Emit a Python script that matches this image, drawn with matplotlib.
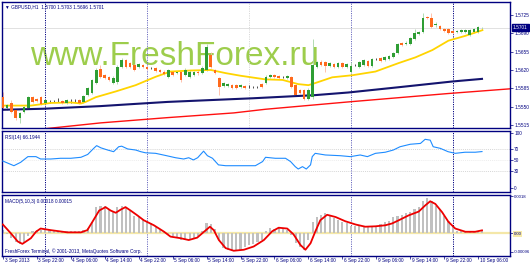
import numpy as np
import matplotlib
matplotlib.use("Agg")
import matplotlib.pyplot as plt
import matplotlib.transforms as mtransforms

W, H = 530, 265
NAVY = "#000080"
FONT = ["Liberation Sans", "DejaVu Sans"]
plt.rcParams["font.family"] = FONT

# GBPUSD H1, 3 Sep 14:00 .. 10 Sep 07:00
opens = [1.5568, 1.5547, 1.5557, 1.5544, 1.5528, 1.5540, 1.5547, 1.5568, 1.5565, 1.5568,
         1.5557, 1.5559, 1.5561, 1.5563, 1.5561, 1.5557, 1.5561, 1.5561, 1.5563, 1.5559,
         1.5572, 1.5576, 1.5595, 1.5622, 1.5610, 1.5607, 1.5595, 1.5597, 1.5626, 1.5639,
         1.5633, 1.5630, 1.5626, 1.5630, 1.5626, 1.5624, 1.5624, 1.5620, 1.5616, 1.5607,
         1.5616, 1.5614, 1.5616, 1.5610, 1.5607, 1.5610, 1.5616, 1.5614, 1.5620, 1.5649,
         1.5620, 1.5605, 1.5589, 1.5589, 1.5591, 1.5591, 1.5588, 1.5589, 1.5588, 1.5588,
         1.5588, 1.5593, 1.5595, 1.5607, 1.5610, 1.5609, 1.5607, 1.5605, 1.5607, 1.5591,
         1.5582, 1.5582, 1.5565, 1.5568, 1.5626, 1.5635, 1.5635, 1.5628, 1.5631, 1.5626,
         1.5633, 1.5626, 1.5616, 1.5630, 1.5626, 1.5630, 1.5637, 1.5628, 1.5641, 1.5643,
         1.5639, 1.5641, 1.5645, 1.5652, 1.5672, 1.5670, 1.5670, 1.5679, 1.5689, 1.5693,
         1.5721, 1.5719, 1.5706, 1.5704, 1.5698, 1.5698, 1.5694, 1.5693, 1.5693, 1.5693,
         1.5687, 1.5693, 1.5693, 1.5700]
closes = [1.5547, 1.5553, 1.5540, 1.5528, 1.5538, 1.5549, 1.5568, 1.5559, 1.5561, 1.5555,
          1.5563, 1.5559, 1.5561, 1.5563, 1.5557, 1.5563, 1.5561, 1.5561, 1.5557, 1.5570,
          1.5586, 1.5601, 1.5620, 1.5607, 1.5605, 1.5601, 1.5605, 1.5626, 1.5639, 1.5626,
          1.5626, 1.5620, 1.5631, 1.5626, 1.5622, 1.5624, 1.5618, 1.5616, 1.5612, 1.5620,
          1.5610, 1.5616, 1.5601, 1.5620, 1.5616, 1.5616, 1.5614, 1.5624, 1.5664, 1.5626,
          1.5614, 1.5588, 1.5595, 1.5593, 1.5586, 1.5586, 1.5591, 1.5586, 1.5588, 1.5588,
          1.5588, 1.5588, 1.5607, 1.5610, 1.5607, 1.5605, 1.5607, 1.5609, 1.5588, 1.5572,
          1.5576, 1.5565, 1.5582, 1.5630, 1.5635, 1.5630, 1.5628, 1.5633, 1.5626, 1.5633,
          1.5626, 1.5631, 1.5628, 1.5630, 1.5635, 1.5639, 1.5628, 1.5641, 1.5641, 1.5637,
          1.5645, 1.5647, 1.5652, 1.5670, 1.5668, 1.5672, 1.5681, 1.5691, 1.5693, 1.5719,
          1.5719, 1.5702, 1.5708, 1.5698, 1.5694, 1.5691, 1.5691, 1.5694, 1.5696, 1.5696,
          1.5696, 1.5698, 1.5702, 1.5701]
highs = [1.5578, 1.5555, 1.5563, 1.5546, 1.5540, 1.5551, 1.5570, 1.5570, 1.5567, 1.5570,
         1.5565, 1.5563, 1.5563, 1.5567, 1.5563, 1.5565, 1.5565, 1.5565, 1.5565, 1.5572,
         1.5588, 1.5603, 1.5624, 1.5630, 1.5612, 1.5609, 1.5609, 1.5630, 1.5643, 1.5641,
         1.5635, 1.5631, 1.5633, 1.5631, 1.5628, 1.5626, 1.5626, 1.5622, 1.5620, 1.5622,
         1.5618, 1.5618, 1.5618, 1.5624, 1.5620, 1.5618, 1.5620, 1.5628, 1.5670, 1.5654,
         1.5622, 1.5607, 1.5597, 1.5595, 1.5593, 1.5593, 1.5593, 1.5591, 1.5591, 1.5589,
         1.5589, 1.5595, 1.5610, 1.5612, 1.5612, 1.5610, 1.5609, 1.5610, 1.5609, 1.5593,
         1.5584, 1.5584, 1.5586, 1.5679, 1.5637, 1.5639, 1.5637, 1.5635, 1.5633, 1.5635,
         1.5635, 1.5633, 1.5635, 1.5631, 1.5637, 1.5641, 1.5639, 1.5643, 1.5643, 1.5645,
         1.5647, 1.5649, 1.5654, 1.5672, 1.5673, 1.5675, 1.5683, 1.5698, 1.5694, 1.5729,
         1.5723, 1.5729, 1.5712, 1.5706, 1.5700, 1.5700, 1.5696, 1.5696, 1.5698, 1.5698,
         1.5698, 1.5700, 1.5704, 1.5703]
lows = [1.5544, 1.5544, 1.5538, 1.5525, 1.5519, 1.5538, 1.5546, 1.5557, 1.5559, 1.5553,
        1.5555, 1.5557, 1.5559, 1.5559, 1.5555, 1.5555, 1.5557, 1.5559, 1.5555, 1.5557,
        1.5570, 1.5574, 1.5593, 1.5605, 1.5603, 1.5599, 1.5593, 1.5593, 1.5624, 1.5624,
        1.5624, 1.5618, 1.5624, 1.5624, 1.5620, 1.5622, 1.5616, 1.5614, 1.5610, 1.5605,
        1.5609, 1.5612, 1.5597, 1.5609, 1.5605, 1.5609, 1.5610, 1.5612, 1.5618, 1.5624,
        1.5612, 1.5572, 1.5588, 1.5588, 1.5584, 1.5584, 1.5586, 1.5584, 1.5586, 1.5586,
        1.5586, 1.5586, 1.5593, 1.5605, 1.5605, 1.5603, 1.5605, 1.5603, 1.5586, 1.5570,
        1.5574, 1.5563, 1.5563, 1.5565, 1.5624, 1.5628, 1.5616, 1.5626, 1.5624, 1.5624,
        1.5624, 1.5624, 1.5614, 1.5628, 1.5624, 1.5628, 1.5626, 1.5626, 1.5639, 1.5635,
        1.5637, 1.5639, 1.5643, 1.5651, 1.5666, 1.5668, 1.5668, 1.5677, 1.5687, 1.5691,
        1.5717, 1.5700, 1.5702, 1.5696, 1.5693, 1.5689, 1.5689, 1.5691, 1.5691, 1.5691,
        1.5685, 1.5691, 1.5691, 1.5696]

# moving averages (bar index, price)
ma_fast_x = [0, 6.6, 11.3, 16, 18.4, 19.5, 21.9, 26.6, 31.3, 36, 39.5, 44.2, 49, 52.5, 56,
             61.9, 65.9, 69.6, 72, 73.6, 77.6, 82.4, 87.8, 93.2, 97.2, 101.2, 105, 108.9, 113]
ma_fast_y = [1.5552, 1.5552, 1.5557, 1.5558, 1.5556, 1.5559, 1.5568, 1.5579, 1.5591, 1.5607,
             1.5617, 1.5619, 1.5620, 1.5614, 1.5609, 1.5602, 1.5601, 1.5593, 1.5591, 1.5595,
             1.5606, 1.5610, 1.5617, 1.5633, 1.5644, 1.5658, 1.5676, 1.5685, 1.5696]
ma_slow_x = [0, 9.6, 23, 30.8, 38.8, 59, 73.6, 81.4, 93.2, 105.9, 112.9]
ma_slow_y = [1.5544, 1.5546, 1.5551, 1.5555, 1.5559, 1.5566, 1.5572, 1.5577, 1.5587, 1.5598, 1.5603]
ma_long_x = [9, 23.1, 38.8, 54.4, 61.9, 81.4, 104.9, 119.5]
ma_long_y = [1.5507, 1.5519, 1.5529, 1.5538, 1.5545, 1.5559, 1.5575, 1.5584]

rsi_x = [0, 2.6, 4.2, 5.9, 7.8, 8.9, 11.3, 13.6, 16, 18.4, 20, 21.4, 22.1, 23.1, 24.7, 26.1,
         27.3, 28, 29.4, 31.3, 32.5, 33.6, 36, 38.4, 40.7, 42.6, 43.8, 44.9, 45.9, 47.3, 48.2,
         49.4, 50.8, 52.5, 59.5, 61.2, 61.9, 64.2, 66.6, 67.8, 68.9, 69.6, 70.6, 71.5, 72.5,
         72.9, 73.6, 76, 79.5, 81.9, 84.2, 85.9, 87.8, 90.1, 92, 93.6, 96, 98.4, 99.5, 100.7,
         101.4, 103.1, 104.9, 106.6, 108.9, 111.3, 112.9]
rsi_y = [49, 40.5, 46.7, 57, 57, 52.7, 52.7, 54, 54, 55.8, 61, 72, 77, 73, 69, 66,
         75, 76, 71, 69, 66, 64, 63, 59, 55, 52.7, 55, 51, 55, 67, 58.7,
         54, 42, 40.5, 40.5, 48, 55.8, 54, 54, 48, 38.8, 34.5, 38.8, 34.5, 42,
         57, 63, 60, 58.7, 57, 60, 57, 63, 65, 69, 75, 79.5, 81, 88.5, 87,
         75, 72, 66, 63, 65, 65, 66.2]

macd_hist = [0.00015, -0.00005, -0.00024, -0.00044, -0.00053, -0.00044, -0.00015, 0.00010, 0.00019, 0.00019,
             0.00015, 0.00015, 0.00015, 0.00010, 0.00010, 0.00010, 0.00010, 0.00010, 0.00010, 0.00019,
             0.00029, 0.00058, 0.00131, 0.00136, 0.00136, 0.00122, 0.00112, 0.00131, 0.00136, 0.00126,
             0.00112, 0.00087, 0.00087, 0.00073, 0.00058, 0.00049, 0.00034, 0.00019, 0.00010, -0.00005,
             -0.00015, -0.00019, -0.00034, -0.00034, -0.00034, -0.00024, -0.00015, 0.00010, 0.00049, 0.00044,
             0.00024, -0.00034, -0.00073, -0.00083, -0.00087, -0.00087, -0.00083, -0.00068, -0.00058, -0.00053,
             -0.00044, -0.00034, 0.00010, 0.00029, 0.00024, 0.00029, 0.00024, 0.00019, -0.00010, -0.00049,
             -0.00068, -0.00083, -0.00034, 0.00058, 0.00083, 0.00092, 0.00102, 0.00087, 0.00078, 0.00068,
             0.00058, 0.00049, 0.00039, 0.00039, 0.00039, 0.00039, 0.00039, 0.00039, 0.00039, 0.00044,
             0.00058, 0.00063, 0.00083, 0.00087, 0.00092, 0.00102, 0.00107, 0.00122, 0.00131, 0.00160,
             0.00175, 0.00160, 0.00136, 0.00117, 0.00087, 0.00063, 0.00039, 0.00010, 0.00010, 0.00010,
             0.00010, 0.00010, 0.00010, 0.00018]
signal_x = [0, 1.9, 3.5, 4.6, 6.6, 7.8, 8.9, 11.3, 15.2, 18.4, 19.9, 21.1, 22.7, 24.2, 25.4,
            26.6, 27.8, 28.9, 30.1, 31.7, 33.2, 35.6, 38, 39.5, 41.9, 43.8, 45.8, 47.4, 48.8,
            49.7, 50.9, 52.5, 54.4, 56.8, 59.1, 61.5, 63.5, 65, 67, 68.5, 70.1, 71.3, 72.5,
            73.6, 74.8, 76.4, 78.4, 80.7, 83.1, 85.4, 87.8, 90.1, 91.7, 93.3, 95.6, 98, 99.5,
            100.7, 101.9, 103.5, 105, 106.6, 109, 111.3, 112.9]
signal_y = [0.00044, 0.0, -0.00040, -0.00052, -0.00024, 0.00008, 0.00024, 0.00016, 0.00005, 0.00005,
            0.00016, 0.00057, 0.00113, 0.00130, 0.00113, 0.00102, 0.00118, 0.00130, 0.00113, 0.00089,
            0.00065, 0.00040, 0.00008, -0.00016, -0.00024, -0.00033, -0.00021, 0.00008, 0.00033,
            0.00016, -0.00033, -0.00073, -0.00086, -0.00081, -0.00065, -0.00033, 0.00011, 0.00028,
            0.00024, -0.00005, -0.00057, -0.00081, -0.00049, 0.00008, 0.00065, 0.00092, 0.00081,
            0.00060, 0.00044, 0.00033, 0.00035, 0.00040, 0.00049, 0.00065, 0.00089, 0.00108, 0.00138,
            0.00159, 0.00146, 0.00105, 0.00057, 0.00024, 0.00008, 0.00008, 0.00015]

time_labels = ["3 Sep 2013", "3 Sep 22:00", "4 Sep 06:00", "4 Sep 14:00", "4 Sep 22:00",
               "5 Sep 06:00", "5 Sep 14:00", "5 Sep 22:00", "6 Sep 06:00", "6 Sep 14:00",
               "6 Sep 22:00", "9 Sep 06:00", "9 Sep 14:00", "9 Sep 22:00", "10 Sep 06:00"]
# bar index of each day start: 4 Sep, 5 Sep, 6 Sep, 9 Sep, 10 Sep
day_starts = [10, 34, 58, 82, 106]
day_colors = [NAVY, "#6b6bc0", "#d8d8d8", "#6b6bc0", NAVY]

price_ticks = [1.5515, 1.5550, 1.5585, 1.5620, 1.5655, 1.5690, 1.5725]
rsi_ticks = [0, 30, 50, 70, 100]
last_price = closes[-1]

fig = plt.figure(figsize=(W / 100, H / 100), dpi=100)
fig.patch.set_facecolor("white")


def pane(top, bottom, left=2, right=510):
    return fig.add_axes([left / W, 1 - bottom / H, (right - left) / W, (bottom - top) / H])


ax_p = pane(2, 128)
ax_r = pane(131, 192)
ax_m = pane(195, 256)

xlim = (-0.2, 119.5)
for ax in (ax_p, ax_r, ax_m):
    ax.set_xlim(*xlim)
    ax.set_facecolor("white")
    for s in ax.spines.values():
        s.set_color(NAVY)
        s.set_linewidth(1.0)
    ax.yaxis.tick_right()
    ax.tick_params(axis="y", direction="out", length=2, width=0.5, color=NAVY,
                   labelsize=3.4, labelcolor=NAVY, pad=1)
    ax.tick_params(axis="x", which="both", bottom=False, labelbottom=False)
    for d, c in zip(day_starts, day_colors):
        if c == "#d8d8d8" and ax is not ax_p:
            continue
        ax.axvline(d, color=c, ls=(0, (1.2, 1.2)), lw=0.7, zorder=1)

# price pane
ax_p.set_ylim(1.55092, 1.57498)
ax_p.set_yticks(price_ticks)
ax_p.set_yticklabels([f"{t:.4f}" for t in price_ticks])

ax_p.text(0.055, 0.5, "www.FreshForex.ru", transform=ax_p.transAxes, fontsize=24,
          color="#95c93d", alpha=0.92, ha="left", va="baseline", zorder=0.5,
          family=FONT)

ax_p.axhline(last_price, color="#d4d4d4", lw=0.5, zorder=1)

xs = np.arange(len(closes))
for i in xs:
    o, c, h, l = opens[i], closes[i], highs[i], lows[i]
    if abs(c - o) < 0.00005:
        body, wick = "#303030", "#303030"
    elif c > o:
        body, wick = "#2f9e34", "#a6d6a6"
    else:
        body, wick = "#ff6a1c", "#ffb8a0"
    ax_p.vlines(i, l, h, color=wick, lw=0.6, zorder=2)
    ax_p.bar(i, max(abs(c - o), 0.00004), bottom=min(o, c), width=0.62,
             color=body, lw=0, zorder=3)

ax_p.plot(ma_long_x, ma_long_y, color="#ff1010", lw=1.0, zorder=2.5)
ax_p.plot(ma_slow_x, ma_slow_y, color="#14146e", lw=1.5, zorder=2.5)
ax_p.plot(ma_fast_x, ma_fast_y, color="#ffd400", lw=1.3, zorder=2.6)

ax_p.text(0.006, 0.965, "\u25bc GBPUSD,H1  1.5700 1.5703 1.5696 1.5701", transform=ax_p.transAxes,
          fontsize=3.4, color=NAVY, ha="left", va="center", family=FONT)

ax_p.annotate(f"{last_price:.4f}", xy=(1.0, last_price), xycoords=("axes fraction", "data"),
              xytext=(2, 0), textcoords="offset points", fontsize=3.4, color="white",
              va="center", ha="left", annotation_clip=False,
              bbox=dict(boxstyle="square,pad=0.25", fc=NAVY, ec=NAVY))

# RSI pane
ax_r.set_ylim(-7.3, 103.6)
ax_r.set_yticks(rsi_ticks)
ax_r.set_yticklabels([str(t) for t in rsi_ticks])
for lvl, col in ((70, "#c8c8c8"), (50, "#e6e6e6"), (30, "#c8c8c8")):
    ax_r.axhline(lvl, color=col, ls=(0, (1.5, 1.5)), lw=0.5, zorder=1)
ax_r.plot(rsi_x, rsi_y, color="#1e8cff", lw=0.8, zorder=3)
ax_r.text(0.006, 0.9, "RSI(14) 66.1944", transform=ax_r.transAxes, fontsize=3.4,
          color=NAVY, ha="left", va="center")

# MACD pane
ax_m.set_ylim(-0.00112, 0.00190)
ax_m.set_yticks([-0.00092, 0.0, 0.00185])
ax_m.set_yticklabels(["-0.00096", "0.00", "0.0018"])
ax_m.tick_params(axis="y", labelsize=3.1, pad=0.5)
ax_m.get_yticklabels()[1].set_bbox(dict(boxstyle="square,pad=0.15", fc="#f7eaa8", ec="none"))
ax_m.axhline(0, color="#f4e7a8", lw=1.6, zorder=1)
ax_m.bar(xs, macd_hist, width=0.5, color="#c0c0c0", lw=0, zorder=2)
ax_m.plot(signal_x, signal_y, color="#ee0000", lw=1.3, zorder=3)
ax_m.text(0.006, 0.9, "MACD(5,10,3) 0.00018 0.00015", transform=ax_m.transAxes,
          fontsize=3.4, color=NAVY, ha="left", va="center")
ax_m.text(0.006, 0.08, "FreshForex Terminal, \u00a9 2001-2013, MetaQuotes Software Corp.",
          transform=ax_m.transAxes, fontsize=3.4, color=NAVY, ha="left", va="center")

tick_pos = np.arange(len(time_labels)) * 8
ax_m.set_xticks(tick_pos)
ax_m.tick_params(axis="x", bottom=True, direction="out", length=2.5, width=0.5, color=NAVY)
trans = mtransforms.blended_transform_factory(ax_m.transData, ax_m.transAxes)
for p, lab in zip(tick_pos, time_labels):
    ax_m.text(p + 0.4, -0.04, lab, transform=trans, fontsize=3.4, color=NAVY,
              ha="left", va="top", clip_on=False)

fig.savefig("out.png", dpi=100, facecolor="white")
